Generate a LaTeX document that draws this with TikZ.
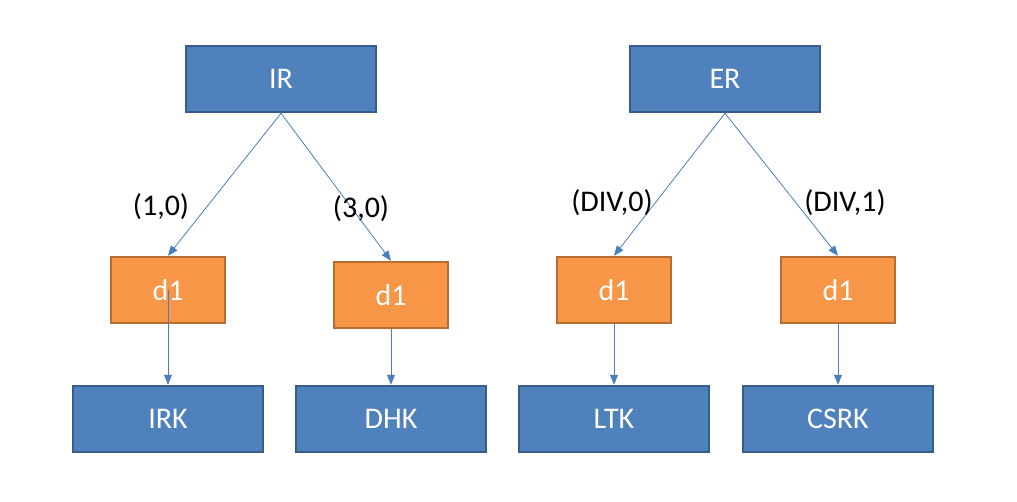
\documentclass[tikz,border=0pt]{standalone}
\usepackage{fontspec}
\setmainfont{Carlito}
\usetikzlibrary{arrows.meta}

\definecolor{boxblue}{HTML}{4F81BD}
\definecolor{edgeblue}{HTML}{385D8A}
\definecolor{boxorange}{HTML}{F79646}
\definecolor{edgeorange}{HTML}{B66D31}
\definecolor{lineblue}{HTML}{4A7EBB}

\begin{document}
\begin{tikzpicture}[x=1pt,y=-1pt,
  bluebox/.style={draw=edgeblue, fill=boxblue, line width=2.5pt, text=white,
    minimum width=190pt, minimum height=66pt, inner sep=0pt},
  orangebox/.style={draw=edgeorange, fill=boxorange, line width=2.5pt, text=white,
    minimum width=114pt, minimum height=66pt, inner sep=0pt},
  link/.style={draw=lineblue, line width=0.8pt, -{Triangle[length=10pt,width=8pt]}},
  lbl/.style={text=black}]
\useasboundingbox (0,0) rectangle (1017,501);
\fontsize{30}{36}\selectfont
% Raices
\node[bluebox] (ir) at (281,79) {IR};
\node[bluebox] (er) at (725,79) {ER};
% Cajas d1
\node[orangebox] (dA) at (168,290) {d1};
\node[orangebox] (dB) at (391,295) {d1};
\node[orangebox] (dC) at (614,290) {d1};
\node[orangebox] (dD) at (838,290) {d1};
% Hojas
\node[bluebox] (irk) at (168,419) {IRK};
\node[bluebox] (dhk) at (391,419) {DHK};
\node[bluebox] (ltk) at (614,419) {LTK};
\node[bluebox] (csrk) at (838,419) {CSRK};
% Aristas superiores
\draw[link] (ir.south) -- (dA.north);
\draw[link] (ir.south) -- (dB.north);
\draw[link] (er.south) -- (dC.north);
\draw[link] (er.south) -- (dD.north);
% Etiquetas
\node[lbl] (lA) at (161,207) {(1,0)};
\node[lbl] (lB) at (361,209) {(3,0)};
\node[lbl] (lC) at (612,203) {(DIV,0)};
\node[lbl] (lD) at (845,203) {(DIV,1)};
% Aristas inferiores
\draw[link] (dA.center) -- (irk.north);
\draw[link] (dB.south) -- (dhk.north);
\draw[link] (dC.south) -- (ltk.north);
\draw[link] (dD.south) -- (csrk.north);
\end{tikzpicture}
\end{document}
